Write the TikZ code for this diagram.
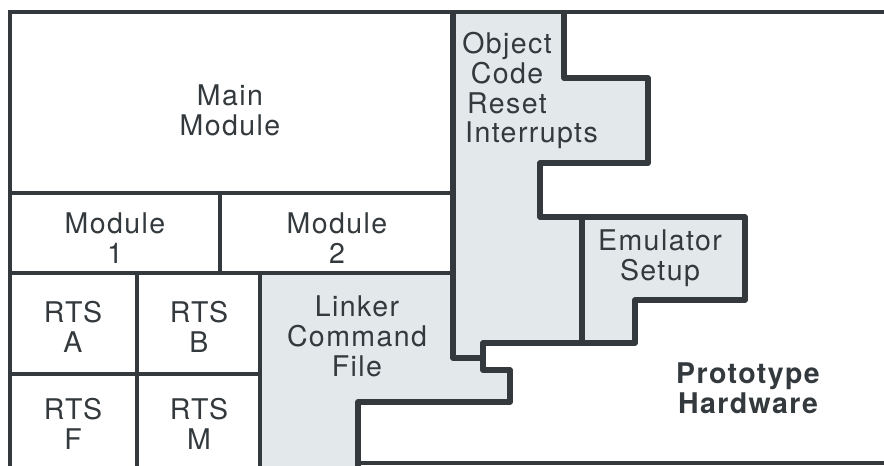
\documentclass[tikz,border=0pt]{standalone}
\usepackage{fontspec}
\setmainfont{TeX Gyre Heros}[LetterSpace=5]
\definecolor{ink}{HTML}{33393C}
\definecolor{panelgray}{HTML}{E3E8EA}

\begin{document}
\begin{tikzpicture}[x=1pt,y=-1pt,
  lbl/.style={align=center,text=ink,inner sep=0pt,font=\fontsize{28.5}{30}\selectfont},
  grid/.style={ink,line width=3.5pt},
  edge/.style={ink,line width=5.5pt,line join=round}]
\useasboundingbox (0,0) rectangle (884,466);
% shaded areas
\fill[panelgray] (453,12) -- (564,12) -- (564,78) -- (648,78) -- (648,163) -- (540,163)
  -- (540,217) -- (582,217) -- (582,343) -- (483,343) -- (483,358) -- (453,358) -- cycle;
\fill[panelgray] (582,217) -- (745,217) -- (745,300) -- (635,300) -- (635,343) -- (582,343) -- cycle;
\fill[panelgray] (260,273) -- (453,273) -- (453,358) -- (483,358) -- (483,370) -- (510,370)
  -- (510,402) -- (358,402) -- (358,466) -- (260,466) -- cycle;
% module boxes
\draw[grid] (10,466) -- (10,12) -- (884,12);
\draw[grid] (10,193) -- (453,193);
\draw[grid] (10,273) -- (453,273);
\draw[grid] (220,193) -- (220,273);
\draw[grid] (137,273) -- (137,466);
\draw[grid] (10,374) -- (260,374);
\draw[grid] (260,273) -- (260,466);
\draw[grid] (358,463) -- (884,463);
% outlines
\draw[edge] (453,12) -- (453,358) -- (483,358) -- (483,370) -- (510,370) -- (510,402)
  -- (358,402) -- (358,466);
\draw[edge] (564,12) -- (564,78) -- (648,78) -- (648,163) -- (540,163) -- (540,217)
  -- (745,217) -- (745,300) -- (635,300) -- (635,343) -- (483,343) -- (483,358);
\draw[edge] (582,217) -- (582,343);
% labels
\node[lbl] (main) at (230,110) {Main\\Module};
\node[lbl] (mod1) at (115,238) {Module\\1};
\node[lbl] (mod2) at (337,238) {Module\\2};
\node[lbl] (rtsa) at (73,327) {RTS\\A};
\node[lbl] (rtsb) at (199,327) {RTS\\B};
\node[lbl] (rtsf) at (73,424) {RTS\\F};
\node[lbl] (rtsm) at (199,424) {RTS\\M};
\node[lbl] (linker) at (357,336) {Linker\\Command\\File};
\node[lbl] (objcode) at (507,73) {Object\\Code\\Reset};
\node[lbl,anchor=base west] (intr) at (465,142) {Interrupts};
\node[lbl] (emu) at (660,258) {Emulator\\Setup};
\node[lbl,font=\fontsize{28.5}{30}\selectfont\bfseries] (proto) at (748,388) {Prototype\\Hardware};
\end{tikzpicture}
\end{document}
